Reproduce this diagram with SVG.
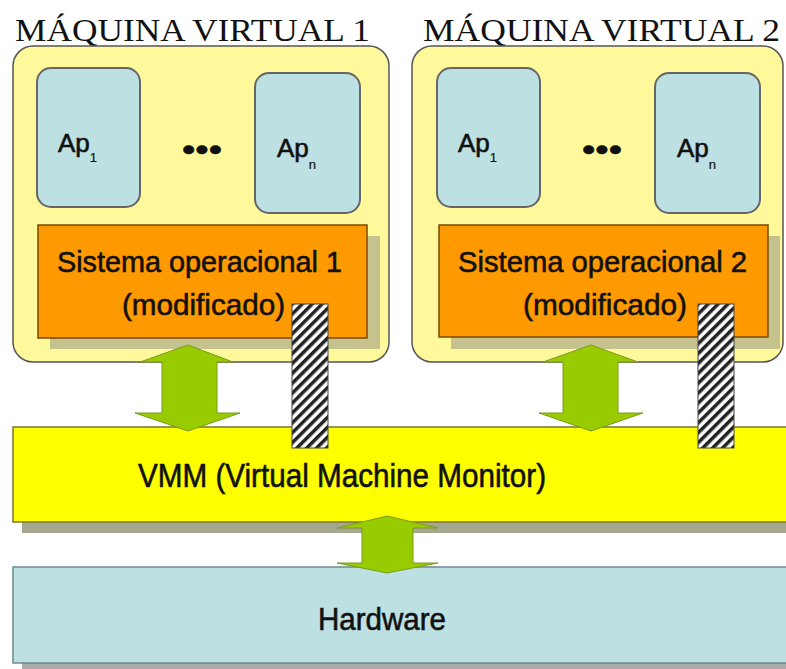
<svg xmlns="http://www.w3.org/2000/svg" width="786" height="669" viewBox="0 0 786 669">
<style>
.vm{fill:#fff99c;stroke:#555;stroke-width:1.5}
.ap{fill:#bde0e3;stroke:#666;stroke-width:2}
.so{fill:#ff9900;stroke:#7a4a00;stroke-width:1.5}
.sh{fill:#b8b48a;opacity:.8}
.t{font-family:"Liberation Sans",Arial,sans-serif;fill:#111;stroke:#111;stroke-width:0.6}
.title{font-family:"Liberation Serif","Times New Roman",serif;font-size:31px;fill:#111}
.arr{fill:#99cc00;stroke:#7a9a20;stroke-width:1}
.hatch{fill:url(#hp);stroke:#444;stroke-width:1}
</style>
<defs>
<pattern id="hp" width="7" height="7" patternUnits="userSpaceOnUse" patternTransform="rotate(45)">
<rect width="7" height="7" fill="#fff"/>
<rect width="3.5" height="7" fill="#222"/>
</pattern>
</defs>
<g id="titles">
<text class="title" x="15" y="41" textLength="355" lengthAdjust="spacingAndGlyphs">MÁQUINA VIRTUAL 1</text>
<text class="title" x="423" y="41" textLength="357" lengthAdjust="spacingAndGlyphs">MÁQUINA VIRTUAL 2</text>
</g>
<g id="vm1">
<rect class="vm" x="13" y="46" width="376" height="316" rx="20"/>
<g id="vm1-ap1"><rect class="ap" x="37" y="68" width="103" height="139" rx="14"/>
<text class="t" x="58" y="152" font-size="26">Ap<tspan font-size="13" dy="10" stroke-width="0.2">1</tspan></text></g>
<text class="t" x="182" y="160" font-size="32" textLength="40" lengthAdjust="spacingAndGlyphs">•••</text>
<g id="vm1-apn"><rect class="ap" x="255" y="73" width="105" height="140" rx="14"/>
<text class="t" x="277" y="157" font-size="26">Ap<tspan font-size="13" dy="12" stroke-width="0.2">n</tspan></text></g>
<g id="vm1-so"><rect class="sh" x="50" y="236" width="330" height="113"/>
<rect class="so" x="38" y="225" width="329" height="113"/>
<text class="t" x="57" y="272" font-size="30" textLength="285" lengthAdjust="spacingAndGlyphs">Sistema operacional 1</text>
<text class="t" x="122" y="315" font-size="30" textLength="163" lengthAdjust="spacingAndGlyphs">(modificado)</text></g>
</g>
<g id="vm2">
<rect class="vm" x="412" y="46" width="371" height="316" rx="20"/>
<g id="vm2-ap1"><rect class="ap" x="437" y="68" width="103" height="139" rx="14"/>
<text class="t" x="458" y="152" font-size="26">Ap<tspan font-size="13" dy="10" stroke-width="0.2">1</tspan></text></g>
<text class="t" x="582" y="160" font-size="32" textLength="40" lengthAdjust="spacingAndGlyphs">•••</text>
<g id="vm2-apn"><rect class="ap" x="655" y="73" width="105" height="140" rx="14"/>
<text class="t" x="677" y="157" font-size="26">Ap<tspan font-size="13" dy="12" stroke-width="0.2">n</tspan></text></g>
<g id="vm2-so"><rect class="sh" x="451" y="236" width="329" height="113"/>
<rect class="so" x="439" y="225" width="329" height="112"/>
<text class="t" x="458" y="272" font-size="30" textLength="289" lengthAdjust="spacingAndGlyphs">Sistema operacional 2</text>
<text class="t" x="523" y="315" font-size="30" textLength="164" lengthAdjust="spacingAndGlyphs">(modificado)</text></g>
</g>
<g id="vmm">
<rect x="22" y="522" width="770" height="11" fill="#8a8a6a" opacity=".75"/>
<rect x="13" y="427" width="790" height="95" fill="#ffff00" stroke="#777733" stroke-width="1.5"/>
<text class="t" x="138" y="487" font-size="33" textLength="408" lengthAdjust="spacingAndGlyphs">VMM (Virtual Machine Monitor)</text>
</g>
<g id="hardware">
<rect x="22" y="663" width="770" height="6" fill="#888" opacity=".7"/>
<rect x="13" y="567" width="790" height="96" fill="#bde0e3" stroke="#6a8a90" stroke-width="1.5"/>
<text class="t" x="318" y="630" font-size="32" textLength="128" lengthAdjust="spacingAndGlyphs">Hardware</text>
</g>
<g id="connectors">
<polygon class="arr" points="188,345 233,362 217,362 217,413 240,413 188,431 135,413 162,413 162,362 140,362"/>
<polygon class="arr" points="591,345 638,362 618,362 618,413 643,413 591,431 539,413 563,413 563,362 543,362"/>
<polygon class="arr" points="387,516 438,528 413,528 413,563 438,563 387,573 337,563 362,563 362,528 337,528"/>
<rect class="hatch" x="292" y="304" width="36" height="144"/>
<rect class="hatch" x="698" y="304" width="36" height="144"/>
</g>
</svg>
